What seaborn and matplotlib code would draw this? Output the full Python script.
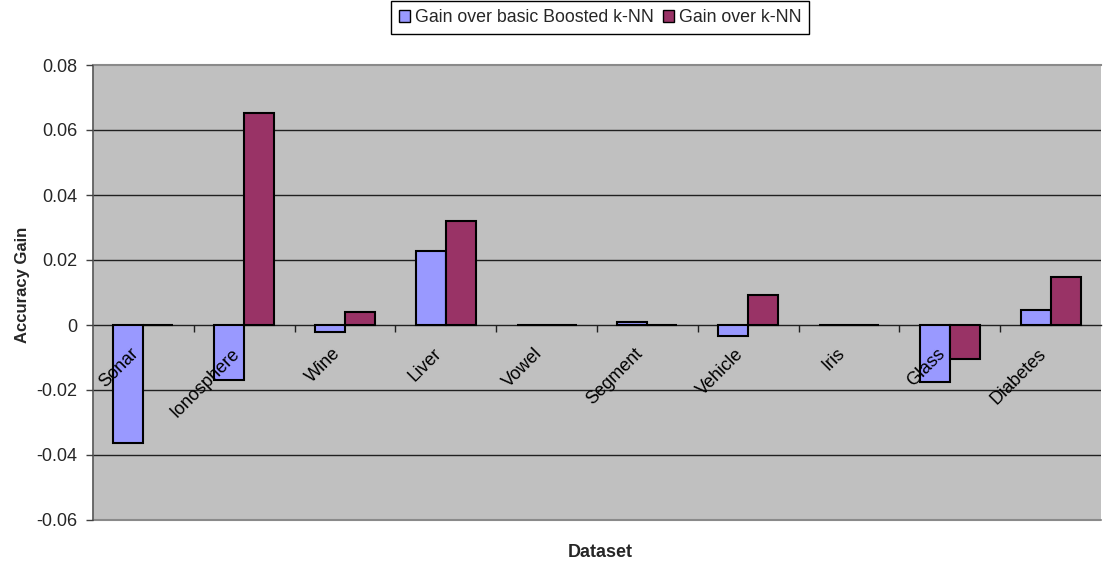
import matplotlib
matplotlib.use('Agg')
import matplotlib.pyplot as plt
import seaborn as sns
import pandas as pd
from matplotlib.ticker import FixedLocator

datasets = ["Sonar", "Ionosphere", "Wine", "Liver", "Vowel",
            "Segment", "Vehicle", "Iris", "Glass", "Diabetes"]
gain_boosted = [-0.0364, -0.0170, -0.0022, 0.0229, 0.0, 0.0008, -0.0035, 0.0, -0.0176, 0.0047]
gain_knn = [0.0, 0.0651, 0.0039, 0.0320, 0.0, 0.0, 0.0092, 0.0, -0.0104, 0.0149]
series_names = ["Gain over basic Boosted k-NN", "Gain over k-NN"]
y_ticks = [-0.06, -0.04, -0.02, 0, 0.02, 0.04, 0.06, 0.08]
y_tick_labels = ["-0.06", "-0.04", "-0.02", "0", "0.02", "0.04", "0.06", "0.08"]

sns.set_theme(style='white')
plt.rcParams['font.family'] = ['Liberation Sans', 'DejaVu Sans']
plt.rcParams['axes.unicode_minus'] = False

df = pd.DataFrame({
    'Dataset': datasets * 2,
    'Gain': gain_boosted + gain_knn,
    'Series': [series_names[0]] * len(datasets) + [series_names[1]] * len(datasets),
})

W, H = 1103, 561
fig = plt.figure(figsize=(W / 100, H / 100), dpi=100)
ax = fig.add_axes([93 / W, 1 - 520 / H, (1101 - 93) / W, (520 - 65) / H])
ax.set_facecolor('#C0C0C0')
ax.set_axisbelow(False)

sns.barplot(data=df, x='Dataset', y='Gain', hue='Series', order=datasets,
            hue_order=series_names, palette=['#9999FF', '#993366'],
            saturation=1, edgecolor='black', linewidth=1.5, width=0.594,
            errorbar=None, ax=ax, zorder=1)

n = len(datasets)
ax.set_xlim(-0.5, n - 0.5)
ax.set_ylim(y_ticks[0], y_ticks[-1])
ax.set_yticks(y_ticks)
ax.set_yticklabels(y_tick_labels, fontsize=13)
# gridlines drawn beneath the bars
ax.hlines([v for v in y_ticks[1:-1] if v != 0], -0.5, n - 0.5,
          colors='#202020', linewidth=1, zorder=0.5)
ax.tick_params(axis='y', which='major', length=5, width=1, color='#404040',
               direction='out', pad=6, left=True)

# category axis crosses at zero
ax.spines['bottom'].set_position(('data', 0))
ax.spines['bottom'].set_color('#202020')
ax.spines['bottom'].set_linewidth(1)
ax.spines['bottom'].set_zorder(0.6)
ax.spines['left'].set_color('#606060')
ax.spines['left'].set_linewidth(1.3)
ax.spines['top'].set_color('#8A8A8A')
ax.spines['top'].set_linewidth(1.5)
ax.spines['right'].set_visible(False)
ax.axhline(y_ticks[0], color='#8A8A8A', linewidth=1.5, zorder=2.5, clip_on=False)

ax.set_xticks(range(n))
ax.set_xticklabels([''] * n)
ax.xaxis.set_minor_locator(FixedLocator([i + 0.5 for i in range(n - 1)]))
ax.tick_params(axis='x', which='major', length=0, bottom=True)
ax.tick_params(axis='x', which='minor', length=5, width=1, color='#202020',
               direction='out', bottom=True)
for i, name in enumerate(datasets):
    ax.annotate(name, xy=(i, 0), xycoords='data', xytext=(-9.5, -14.5),
                textcoords='offset points', rotation=45, ha='right', va='top',
                rotation_mode='anchor', fontsize=13, color='black', zorder=5,
                annotation_clip=False)

ax.set_xlabel('Dataset', fontsize=13, fontweight='bold')
ax.xaxis.set_label_coords(0.503, -0.052)
ax.xaxis.label.set_va('top')
ax.set_ylabel('Accuracy Gain', fontsize=12, fontweight='bold')
ax.yaxis.set_label_coords(-0.0625, 0.516)

handles, labels = ax.get_legend_handles_labels()
ax.get_legend().remove()
fig.legend(handles, labels, loc='upper center', bbox_to_anchor=(600 / W, 1 - 1 / H),
           ncol=2, frameon=True, fancybox=False, edgecolor='black',
           framealpha=1, fontsize=12.8, handlelength=0.65, handleheight=0.65,
           handletextpad=0.25, columnspacing=0.5, borderpad=0.45,
           borderaxespad=0)
leg = fig.legends[0]
leg.get_frame().set_linewidth(1)
for h in leg.legend_handles:
    h.set_edgecolor('black')
    h.set_linewidth(1)

fig.savefig('out.png', dpi=100)
